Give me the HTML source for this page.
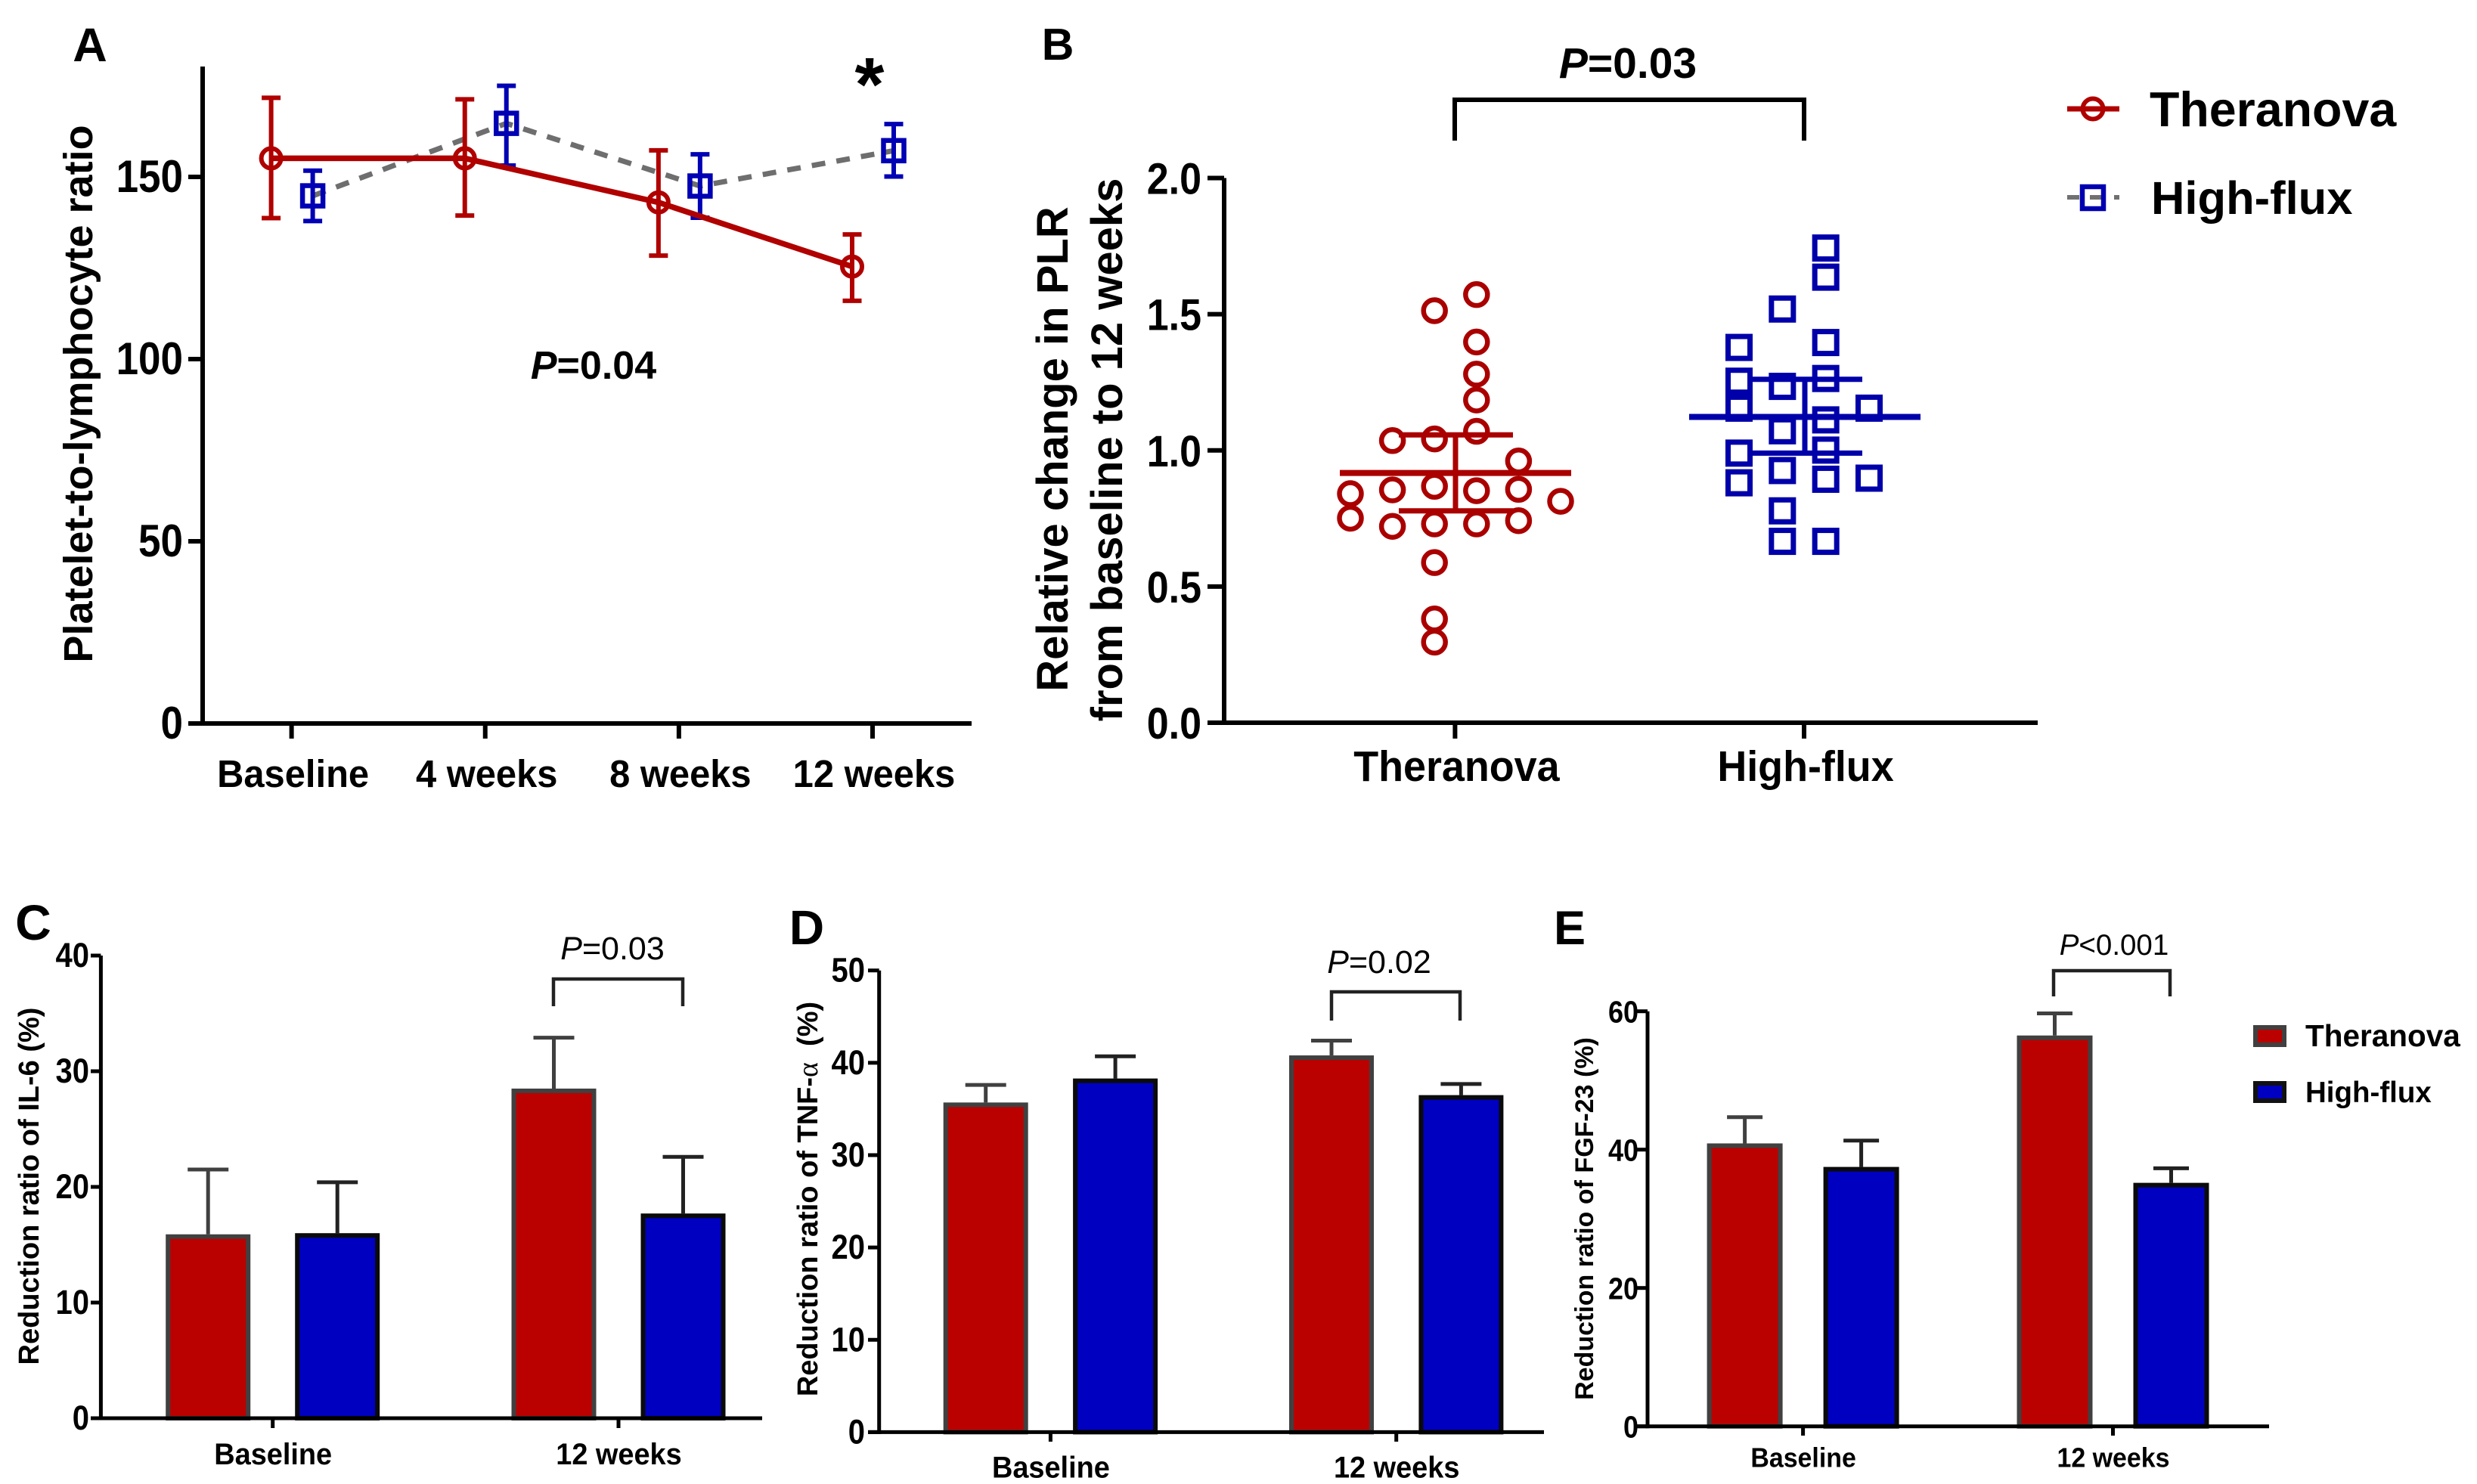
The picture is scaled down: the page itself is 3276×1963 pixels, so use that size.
<!DOCTYPE html>
<html lang="en">
<head>
<meta charset="utf-8">
<title>Theranova vs High-flux: PLR and cytokine reduction ratios</title>
<style>
  html, body { margin: 0; padding: 0; background: #fff; }
  svg { display: block; }
  text { font-family: "Liberation Sans", Arial, sans-serif; fill: #000; white-space: pre; }
  .b { font-weight: 700; }
  .i { font-style: italic; }
</style>
</head>
<body>
<svg id="figure" xmlns="http://www.w3.org/2000/svg" width="3276" height="1963" viewBox="0 0 3276 1963">
  <rect x="0" y="0" width="3276" height="1963" fill="#fff"/>

  <g id="panel-a">
    <text class="b" x="119" y="81" font-size="63" text-anchor="middle">A</text>
    <text class="b" font-size="54" text-anchor="middle" transform="translate(122 521) rotate(-90)">Platelet-to-lymphocyte ratio</text>
    <text class="b" x="785" y="501" font-size="52" text-anchor="middle"><tspan class="i">P</tspan>=0.04</text>
    <text class="b" x="1150" y="146" font-size="100" text-anchor="middle">*</text>
  </g>

  <g id="panel-b">
    <text class="b" x="1399" y="79" font-size="59" text-anchor="middle">B</text>
    <text class="b" font-size="58" text-anchor="middle" transform="translate(1412 594) rotate(-90)">Relative change in PLR</text>
    <text class="b" font-size="58" text-anchor="middle" transform="translate(1484 595) rotate(-90)">from baseline to 12 weeks</text>
    <text class="b" x="2153" y="103" font-size="57" text-anchor="middle"><tspan class="i">P</tspan>=0.03</text>
    <path d="M1924 186V132H2386V186" fill="none" stroke="#000" stroke-width="6"/>
  </g>

  <g id="legend-top">
    <g>
      <line x1="2734" y1="144" x2="2803" y2="144" stroke="#b00000" stroke-width="7"/>
      <circle cx="2768" cy="144" r="13.5" fill="none" stroke="#b00000" stroke-width="6"/>
      <text class="b" x="2843" y="167" font-size="64.5">Theranova</text>
    </g>
    <g>
      <line x1="2734" y1="261" x2="2803" y2="261" stroke="#707070" stroke-width="6" stroke-dasharray="16 14 15 17 7"/>
      <rect x="2754" y="247" width="28" height="29" fill="none" stroke="#0000b0" stroke-width="6.5"/>
      <text class="b" x="2845" y="283" font-size="61.5">High-flux</text>
    </g>
  </g>

  <g id="panel-c">
    <text class="b" x="44" y="1243" font-size="66" text-anchor="middle">C</text>
    <text class="b" font-size="38" text-anchor="middle" transform="translate(51 1569) rotate(-90)">Reduction ratio of IL-6 (%)</text>
    <text x="810" y="1269" font-size="43" text-anchor="middle"><tspan class="i">P</tspan>=0.03</text>
    <path d="M732 1331V1295H903V1331" fill="none" stroke="#222" stroke-width="4.5"/>
  </g>

  <g id="panel-d">
    <text class="b" x="1067" y="1249" font-size="64" text-anchor="middle">D</text>
    <text class="b" font-size="38" text-anchor="middle" transform="translate(1081 1586) rotate(-90)">Reduction ratio of TNF-<tspan font-family="Liberation Serif, serif" font-weight="400">α</tspan>  (%)</text>
    <text x="1824" y="1287" font-size="43" text-anchor="middle"><tspan class="i">P</tspan>=0.02</text>
    <path d="M1761 1350V1312H1931V1350" fill="none" stroke="#222" stroke-width="4.5"/>
  </g>

  <g id="panel-e">
    <text class="b" x="2076" y="1249" font-size="63" text-anchor="middle">E</text>
    <text class="b" font-size="34" text-anchor="middle" transform="translate(2107 1612) rotate(-90)">Reduction ratio of FGF-23 (%)</text>
    <text x="2796" y="1263" font-size="38.5" text-anchor="middle"><tspan class="i">P</tspan>&lt;0.001</text>
    <path d="M2716 1318V1284H2870V1318" fill="none" stroke="#222" stroke-width="4.5"/>
  </g>

  <g id="legend-bottom">
    <g>
      <rect x="2983" y="1359" width="38" height="23" fill="#bb0000" stroke="#404040" stroke-width="6"/>
      <text class="b" x="3049" y="1384" font-size="40.5">Theranova</text>
    </g>
    <g>
      <rect x="2983" y="1433" width="38" height="23" fill="#0000c0" stroke="#111" stroke-width="6"/>
      <text class="b" x="3049" y="1458" font-size="38.5">High-flux</text>
    </g>
  </g>
</svg>

<script>
// ---------- Panel A data ----------
const timeCategories = ['Baseline', '4 weeks', '8 weeks', '12 weeks'];
const plrTicks = [0, 50, 100, 150];
const plrTickLabels = ['0', '50', '100', '150'];
const plrTheranova = [155.1, 155.1, 143.0, 125.4];
const plrTheranovaHigh = [171.7, 171.3, 157.3, 134.2];
const plrTheranovaLow = [138.7, 139.4, 128.4, 116.0];
const plrHighFlux = [144.8, 164.7, 147.5, 157.2];
const plrHighFluxHigh = [151.7, 175.0, 156.2, 164.5];
const plrHighFluxLow = [137.9, 153.1, 138.8, 150.1];

// ---------- Panel B data ----------
const groupCategories = ['Theranova', 'High-flux'];
const changeTicks = [0, 0.5, 1, 1.5, 2];
const changeTickLabels = ['0.0', '0.5', '1.0', '1.5', '2.0'];
const changeTheranova = [1.572, 1.513, 1.398, 1.280, 1.185, 1.070, 1.036, 1.042, 0.961, 0.841, 0.855, 0.868, 0.852, 0.857, 0.813, 0.751, 0.721, 0.730, 0.730, 0.742, 0.588, 0.381, 0.296];
const swarmColumnTheranova = [4, 3, 4, 4, 4, 4, 2, 3, 5, 1, 2, 3, 4, 5, 6, 1, 2, 3, 4, 5, 3, 3, 3];
const changeHighFlux = [1.743, 1.636, 1.519, 1.378, 1.396, 1.254, 1.235, 1.264, 1.155, 1.155, 1.112, 1.072, 0.990, 1.001, 0.926, 0.881, 0.894, 0.898, 0.778, 0.666, 0.666];
const swarmColumnHighFlux = [3, 3, 2, 1, 3, 1, 2, 3, 1, 4, 3, 2, 1, 3, 2, 1, 3, 4, 2, 2, 3];
const changeSummary = [
  { mean: 0.917, upper: 1.057, lower: 0.778 },
  { mean: 1.123, upper: 1.261, lower: 0.990 }
];

// ---------- Panels C, D, E data ----------
const barCategories = ['Baseline', '12 weeks'];
const il6Ticks = [0, 10, 20, 30, 40];
const il6TickLabels = ['0', '10', '20', '30', '40'];
const il6Theranova = [15.9, 28.5];
const il6TheranovaTop = [21.5, 32.9];
const il6HighFlux = [16.0, 17.7];
const il6HighFluxTop = [20.4, 22.6];

const tnfTicks = [0, 10, 20, 30, 40, 50];
const tnfTickLabels = ['0', '10', '20', '30', '40', '50'];
const tnfTheranova = [35.7, 40.8];
const tnfTheranovaTop = [37.6, 42.4];
const tnfHighFlux = [38.3, 36.5];
const tnfHighFluxTop = [40.7, 37.7];

const fgfTicks = [0, 20, 40, 60];
const fgfTickLabels = ['0', '20', '40', '60'];
const fgfTheranova = [40.9, 56.5];
const fgfTheranovaTop = [44.7, 59.7];
const fgfHighFlux = [37.5, 35.2];
const fgfHighFluxTop = [41.3, 37.3];

// ---------- Drawing primitives ----------
const NS = 'http://www.w3.org/2000/svg';

function linear(d0, d1, r0, r1) {
  return function (v) { return r0 + (v - d0) * (r1 - r0) / (d1 - d0); };
}

function addLine(parent, name, x1, y1, x2, y2, color, width) {
  const el = document.createElementNS(NS, 'line');
  
  
  el.setAttribute('x1', x1);
  el.setAttribute('y1', y1);
  el.setAttribute('x2', x2);
  el.setAttribute('y2', y2);
  el.setAttribute('stroke', color);
  el.setAttribute('stroke-width', width);
  parent.appendChild(el);
  return el;
}

function addText(parent, name, x, y, str, size, anchor) {
  const el = document.createElementNS(NS, 'text');
  
  
  el.setAttribute('class', 'b');
  el.setAttribute('x', x);
  el.setAttribute('y', y);
  el.setAttribute('font-size', size);
  el.setAttribute('text-anchor', anchor);
  el.textContent = str;
  parent.appendChild(el);
  return el;
}

// Reference tick labels are taller and narrower than plain Arial Bold.
function condense(el, factor) {
  const natural = el.getComputedTextLength();
  el.setAttribute('textLength', natural * factor);
  el.setAttribute('lengthAdjust', 'spacingAndGlyphs');
}

function addCircle(parent, name, cx, cy, r, color, width) {
  const el = document.createElementNS(NS, 'circle');
  
  
  el.setAttribute('cx', cx);
  el.setAttribute('cy', cy);
  el.setAttribute('r', r);
  el.setAttribute('fill', 'none');
  el.setAttribute('stroke', color);
  el.setAttribute('stroke-width', width);
  parent.appendChild(el);
  return el;
}

function addSquare(parent, name, cx, cy, side, color, width) {
  const el = document.createElementNS(NS, 'rect');
  
  
  el.setAttribute('x', cx - side / 2);
  el.setAttribute('y', cy - side / 2);
  el.setAttribute('width', side);
  el.setAttribute('height', side);
  el.setAttribute('fill', 'none');
  el.setAttribute('stroke', color);
  el.setAttribute('stroke-width', width);
  parent.appendChild(el);
  return el;
}

function addPolyline(parent, name, pts, color, width, dash) {
  const el = document.createElementNS(NS, 'polyline');
  
  
  el.setAttribute('points', pts.map(function (p) { return p[0] + ',' + p[1]; }).join(' '));
  el.setAttribute('fill', 'none');
  el.setAttribute('stroke', color);
  el.setAttribute('stroke-width', width);
  if (dash) el.setAttribute('stroke-dasharray', dash);
  parent.appendChild(el);
  return el;
}

function addBar(parent, name, cx, barWidth, top, bottom, fill, stroke) {
  const el = document.createElementNS(NS, 'rect');
  
  
  el.setAttribute('x', cx - barWidth / 2 + 3);
  el.setAttribute('y', top + 3);
  el.setAttribute('width', barWidth - 6);
  el.setAttribute('height', Math.max(0, bottom - top - 3));
  el.setAttribute('fill', fill);
  el.setAttribute('stroke', stroke);
  el.setAttribute('stroke-width', 6);
  parent.appendChild(el);
  return el;
}

function drawAxes(parent, o) {
  addLine(parent, 'y-axis-line', o.axisX, o.top, o.axisX, o.bottom + o.stroke / 2, '#000', o.stroke);
  addLine(parent, 'x-axis-line', o.tickLeft, o.bottom, o.right, o.bottom, '#000', o.stroke);
  o.yTicks.forEach(function (t, i) {
    const y = o.yScale(t);
    addLine(parent, 'y-tick', o.tickLeft, y, o.axisX, y, '#000', o.stroke);
    const label = addText(parent, 'y-tick-label', o.labelRight, y + o.labelDy + 1, o.yLabels[i], o.tickSize * 1.13, 'end');
    condense(label, 0.885);
  });
  o.categories.forEach(function (c, i) {
    const x = o.xScale(i);
    addLine(parent, 'x-tick', x, o.bottom, x, o.tickBottom, '#000', o.stroke);
    const label = addText(parent, 'x-tick-label', x + o.xLabelDx, o.xLabelY, c, o.xLabelSize * 1.05, 'middle');
    condense(label, 0.95);
  });
}

function errorBar(parent, name, x, yHigh, yLow, capWidth, color, width) {
  addLine(parent, name + '-stem', x, yHigh, x, yLow, color, width);
  addLine(parent, name + '-cap-high', x - capWidth / 2, yHigh, x + capWidth / 2, yHigh, color, width);
  addLine(parent, name + '-cap-low', x - capWidth / 2, yLow, x + capWidth / 2, yLow, color, width);
}

// ---------- Panel A ----------
(function () {
  const g = document.getElementById('panel-a');
  const y = linear(0, 150, 957, 234);
  const xCat = linear(0, 3, 385.6, 1154);
  const RED = '#b00000';
  const BLUE = '#0000b4';
  const xRed = function (i) { return xCat(i) - 27; };
  const xBlue = function (i) { return xCat(i) + 28; };

  drawAxes(g, { axisX: 268, top: 88, bottom: 957, tickLeft: 249, right: 1285, stroke: 6,
    yTicks: plrTicks, yLabels: plrTickLabels, yScale: y, labelRight: 242, labelDy: 19, tickSize: 53,
    categories: timeCategories, xScale: xCat, tickBottom: 977, xLabelDx: 2, xLabelY: 1041, xLabelSize: 49 });

  addPolyline(g, 'high-flux-line', plrHighFlux.map(function (v, i) { return [xBlue(i), y(v)]; }), '#6e6e6e', 7, '18 15');
  plrHighFlux.forEach(function (v, i) {
    errorBar(g, 'high-flux-error', xBlue(i), y(plrHighFluxHigh[i]), y(plrHighFluxLow[i]), 25, BLUE, 6);
    addSquare(g, 'high-flux-point', xBlue(i), y(v), 27, BLUE, 6.5);
  });
  addPolyline(g, 'theranova-line', plrTheranova.map(function (v, i) { return [xRed(i), y(v)]; }), RED, 7.5, null);
  plrTheranova.forEach(function (v, i) {
    errorBar(g, 'theranova-error', xRed(i), y(plrTheranovaHigh[i]), y(plrTheranovaLow[i]), 25, RED, 6);
    addCircle(g, 'theranova-point', xRed(i), y(v), 13, RED, 6);
  });
})();

// ---------- Panel B ----------
(function () {
  const g = document.getElementById('panel-b');
  const y = linear(0, 2, 956, 235.5);
  const xCat = linear(0, 1, 1924.4, 2386);
  const RED = '#aa0000';
  const BLUE = '#0000aa';

  drawAxes(g, { axisX: 1619, top: 235.5, bottom: 956, tickLeft: 1597, right: 2695, stroke: 6,
    yTicks: changeTicks, yLabels: changeTickLabels, yScale: y, labelRight: 1589, labelDy: 20, tickSize: 52,
    categories: groupCategories, xScale: xCat, tickBottom: 977, xLabelDx: 2, xLabelY: 1033, xLabelSize: 54 });

  const redCol = linear(1, 6, 1786, 2064);
  const blueCol = linear(1, 4, 2300, 2472);

  changeTheranova.forEach(function (v, i) {
    addCircle(g, 'theranova-dot', redCol(swarmColumnTheranova[i]), y(v), 14.5, RED, 6.5);
  });
  changeHighFlux.forEach(function (v, i) {
    addSquare(g, 'high-flux-dot', blueCol(swarmColumnHighFlux[i]), y(v), 29, BLUE, 7);
  });

  const colors = [RED, BLUE];
  const names = ['theranova', 'high-flux'];
  changeSummary.forEach(function (s, i) {
    const cx = xCat(i) + (i === 0 ? 0.6 : 1);
    addLine(g, names[i] + '-mean-line', cx - 153, y(s.mean), cx + 153, y(s.mean), colors[i], 8);
    addLine(g, names[i] + '-sd-stem', cx, y(s.upper), cx, y(s.lower), colors[i], 7);
    addLine(g, names[i] + '-sd-upper', cx - 75, y(s.upper), cx + 76, y(s.upper), colors[i], 7);
    addLine(g, names[i] + '-sd-lower', cx - 75, y(s.lower), cx + 76, y(s.lower), colors[i], 7);
  });
})();

// ---------- Panels C, D, E ----------
function drawBarPanel(id, o) {
  const g = document.getElementById(id);
  const RED_FILL = '#bb0000';
  const BLUE_FILL = '#0000c0';
  const RED_EDGE = '#404040';
  const BLUE_EDGE = '#0a0a0a';

  o.categories.forEach(function (c, i) {
    const xr = o.xScale(i) - o.groupOffset;
    const xb = o.xScale(i) + o.groupOffset;
    const yr = o.yScale(o.red[i]);
    const yb = o.yScale(o.blue[i]);
    const yrt = o.yScale(o.redTop[i]);
    const ybt = o.yScale(o.blueTop[i]);
    addLine(g, 'theranova-error-stem', xr, yrt, xr, yr, RED_EDGE, 5);
    addLine(g, 'theranova-error-cap', xr - o.capWidth / 2, yrt, xr + o.capWidth / 2, yrt, RED_EDGE, 5);
    addLine(g, 'high-flux-error-stem', xb, ybt, xb, yb, '#222', 5);
    addLine(g, 'high-flux-error-cap', xb - o.capWidth / 2, ybt, xb + o.capWidth / 2, ybt, '#222', 5);
    addBar(g, 'theranova-bar', xr, o.barWidth, yr, o.bottom, RED_FILL, RED_EDGE);
    addBar(g, 'high-flux-bar', xb, o.barWidth, yb, o.bottom, BLUE_FILL, BLUE_EDGE);
  });

  drawAxes(g, { axisX: o.axisX, top: o.top, bottom: o.bottom, tickLeft: o.tickLeft, right: o.right, stroke: 5,
    yTicks: o.ticks, yLabels: o.labels, yScale: o.yScale, labelRight: o.labelRight, labelDy: o.labelDy, tickSize: o.tickSize,
    categories: o.categories, xScale: o.xScale, tickBottom: o.tickBottom, xLabelDx: 0.5, xLabelY: o.xLabelY, xLabelSize: o.xLabelSize });
}

drawBarPanel('panel-c', {
  categories: barCategories, ticks: il6Ticks, labels: il6TickLabels,
  red: il6Theranova, redTop: il6TheranovaTop, blue: il6HighFlux, blueTop: il6HighFluxTop,
  yScale: linear(0, 40, 1876, 1264), xScale: linear(0, 1, 360.7, 818),
  groupOffset: 85.5, barWidth: 112, capWidth: 54,
  axisX: 133.4, top: 1264, bottom: 1876, tickLeft: 120, right: 1008, tickBottom: 1889,
  labelRight: 118, labelDy: 14, tickSize: 40, xLabelY: 1937, xLabelSize: 38
});

drawBarPanel('panel-d', {
  categories: barCategories, ticks: tnfTicks, labels: tnfTickLabels,
  red: tnfTheranova, redTop: tnfTheranovaTop, blue: tnfHighFlux, blueTop: tnfHighFluxTop,
  yScale: linear(0, 50, 1894.4, 1283.7), xScale: linear(0, 1, 1389.4, 1846.7),
  groupOffset: 85.7, barWidth: 112, capWidth: 54,
  axisX: 1162.7, top: 1283.7, bottom: 1894.4, tickLeft: 1148, right: 2042, tickBottom: 1907,
  labelRight: 1144, labelDy: 14, tickSize: 40, xLabelY: 1954.5, xLabelSize: 38
});

drawBarPanel('panel-e', {
  categories: barCategories, ticks: fgfTicks, labels: fgfTickLabels,
  red: fgfTheranova, redTop: fgfTheranovaTop, blue: fgfHighFlux, blueTop: fgfHighFluxTop,
  yScale: linear(0, 60, 1886.7, 1337.7), xScale: linear(0, 1, 2384.6, 2794.5),
  groupOffset: 77, barWidth: 100, capWidth: 47,
  axisX: 2179, top: 1337.7, bottom: 1886.7, tickLeft: 2163, right: 3001, tickBottom: 1899,
  labelRight: 2167, labelDy: 14, tickSize: 36, xLabelY: 1940.5, xLabelSize: 34
});
</script>
</body>
</html>
